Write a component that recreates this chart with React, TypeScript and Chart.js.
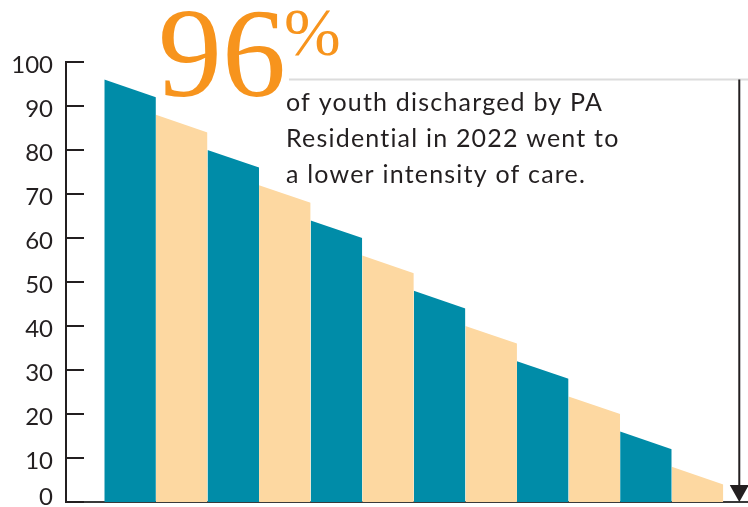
import React, { useEffect, useRef } from 'react';
import { Chart, registerables } from 'chart.js';

Chart.register(...registerables);

// ---- data ----
const BAR_NAMES = ['1', '2', '3', '4', '5', '6', '7', '8', '9', '10', '11', '12'];
const BAR_LEFT_VALUES = [96, 88, 80, 72, 64, 56, 48, 40, 32, 24, 16, 8];
const BAR_RIGHT_VALUES = [92, 84, 76, 68, 60, 52, 44, 36, 28, 20, 12, 4];
const Y_TICK_VALUES = [0, 10, 20, 30, 40, 50, 60, 70, 80, 90, 100];
const HEADLINE_VALUE = 96;
const HEADLINE_NUMBER = '96';
const HEADLINE_UNIT = '%';
const BODY_LINES = [
  'of youth discharged by PA',
  'Residential in 2022 went to',
  'a lower intensity of care.',
];

// ---- styles ----
const TEAL = '#008ca8';
const PEACH = '#fdd8a1';
const ORANGE = '#f7941d';
const INK = '#231f20';
const ARROW_AT = 12.31;

export default function App() {
  const canvasRef = useRef<HTMLCanvasElement | null>(null);

  useEffect(() => {
    document.body.style.margin = '0';
    const canvas = canvasRef.current;
    if (!canvas) return;

    const datasets = BAR_NAMES.map((name, i) => ({
      label: name,
      data: [
        { x: i, y: BAR_LEFT_VALUES[i] },
        { x: i + 1, y: BAR_RIGHT_VALUES[i] },
      ],
      fill: 'origin',
      backgroundColor: i % 2 === 0 ? TEAL : PEACH,
      borderWidth: 0,
      borderColor: 'rgba(0,0,0,0)',
      pointRadius: 0,
      tension: 0,
    }));

    const annotate = {
      id: 'annotate',
      afterDatasetsDraw(chart: any) {
        const { ctx, chartArea, scales } = chart;
        const ys = scales.y;
        const xs = scales.x;
        ctx.save();
        // inward y ticks
        ctx.strokeStyle = INK;
        ctx.lineWidth = 2;
        Y_TICK_VALUES.forEach((v) => {
          const y = ys.getPixelForValue(v);
          ctx.beginPath();
          ctx.moveTo(chartArea.left, y);
          ctx.lineTo(chartArea.left + 18, y);
          ctx.stroke();
        });
        // gray rule at headline value
        const yH = ys.getPixelForValue(HEADLINE_VALUE);
        ctx.strokeStyle = '#dcdcdc';
        ctx.lineWidth = 2;
        ctx.beginPath();
        ctx.moveTo(289, yH);
        ctx.lineTo(chartArea.right, yH);
        ctx.stroke();
        // arrow
        const xA = xs.getPixelForValue(ARROW_AT);
        const y0 = ys.getPixelForValue(0);
        ctx.strokeStyle = INK;
        ctx.lineWidth = 2;
        ctx.beginPath();
        ctx.moveTo(xA, yH);
        ctx.lineTo(xA, y0 - 14);
        ctx.stroke();
        ctx.fillStyle = INK;
        ctx.beginPath();
        ctx.moveTo(xA - 9.5, y0 - 17);
        ctx.lineTo(xA + 9.5, y0 - 17);
        ctx.lineTo(xA, y0);
        ctx.closePath();
        ctx.fill();
        // headline
        ctx.textBaseline = 'alphabetic';
        ctx.textAlign = 'left';
        ctx.fillStyle = ORANGE;
        ctx.font = "128px 'Liberation Serif'";
        ctx.fillText(HEADLINE_NUMBER, 158, 96);
        ctx.font = "68px 'Liberation Serif'";
        ctx.fillText(HEADLINE_UNIT, 284, 55);
        // body text
        ctx.fillStyle = INK;
        ctx.font = "25px Lato";
        (ctx as any).letterSpacing = '1.2px';
        BODY_LINES.forEach((line, i) => {
          ctx.fillText(line, 286, 110.7 + i * 36);
        });
        ctx.restore();
      },
    };

    const chart = new Chart(canvas, {
      type: 'line',
      data: { datasets: datasets as any },
      options: {
        animation: false,
        responsive: true,
        maintainAspectRatio: false,
        layout: { padding: { top: 62, right: 0, left: 0, bottom: 0 } },
        plugins: { legend: { display: false }, tooltip: { enabled: false } },
        scales: {
          x: {
            type: 'linear',
            min: -0.7425,
            max: 12.479,
            ticks: { display: false },
            grid: { display: false, drawTicks: false },
            border: { display: true, color: '#3a3a3a', width: 2 },
            afterFit: (s: any) => {
              s.height = 5;
            },
          },
          y: {
            type: 'linear',
            min: 0,
            max: 100,
            ticks: {
              stepSize: 10,
              padding: 13,
              labelOffset: 3,
              color: INK,
              font: (c: any) =>
                c.tick && c.tick.value === 0
                  ? { family: 'Lato', size: 24, lineHeight: '15px' }
                  : { family: 'Lato', size: 24 },
              callback: (v: any) => (v === 0 ? ['0', ''] : String(v)),
            },
            grid: { display: false, drawTicks: false },
            border: { display: true, color: INK, width: 2 },
            afterFit: (s: any) => {
              s.width = 66;
              s.paddingTop = 0;
              s.paddingBottom = 0;
            },
          },
        },
      },
      plugins: [annotate],
    });

    return () => chart.destroy();
  }, []);

  return (
    <div style={{ position: 'relative', width: 748, height: 507 }}>
      <canvas ref={canvasRef} />
    </div>
  );
}
